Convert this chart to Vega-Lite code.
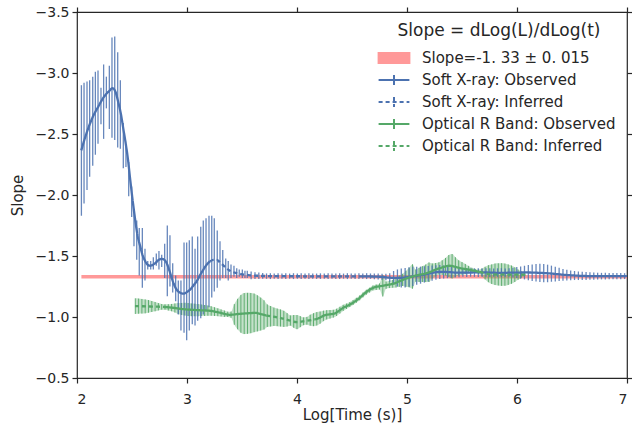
{
  "$schema": "https://vega.github.io/schema/vega-lite/v6.json",
  "width": 550,
  "height": 366,
  "autosize": {"type": "none"},
  "padding": {"left": 77, "top": 12, "right": 5, "bottom": 47},
  "config": {
    "font": "DejaVu Sans",
    "view": {"stroke": "#262626", "strokeWidth": 1.2},
    "axis": {"grid": false, "domain": false, "tickColor": "#262626", "tickSize": 5, "tickWidth": 1.2, "labelColor": "#262626", "labelFontSize": 14, "titleFontSize": 15, "titleFontWeight": "normal", "titleColor": "#262626", "labelFont": "DejaVu Sans", "titleFont": "DejaVu Sans"}
  },
  "datasets": {
    "band": [{"s": "Slope=-1. 33 ± 0. 015", "x": 2.04, "x2": 7.0, "lo": -1.345, "hi": -1.315}],
    "lines": [
      {"s": "Soft X-ray: Observed", "g": "b1", "x": 2.039, "y": -2.366},
      {"s": "Soft X-ray: Observed", "g": "b1", "x": 2.09, "y": -2.516},
      {"s": "Soft X-ray: Observed", "g": "b1", "x": 2.143, "y": -2.639},
      {"s": "Soft X-ray: Observed", "g": "b1", "x": 2.191, "y": -2.72},
      {"s": "Soft X-ray: Observed", "g": "b1", "x": 2.243, "y": -2.802},
      {"s": "Soft X-ray: Observed", "g": "b1", "x": 2.29, "y": -2.85},
      {"s": "Soft X-ray: Observed", "g": "b1", "x": 2.325, "y": -2.875},
      {"s": "Soft X-ray: Observed", "g": "b1", "x": 2.352, "y": -2.84},
      {"s": "Soft X-ray: Observed", "g": "b1", "x": 2.375, "y": -2.761},
      {"s": "Soft X-ray: Observed", "g": "b1", "x": 2.4, "y": -2.66},
      {"s": "Soft X-ray: Observed", "g": "b1", "x": 2.421, "y": -2.543},
      {"s": "Soft X-ray: Observed", "g": "b1", "x": 2.445, "y": -2.41},
      {"s": "Soft X-ray: Observed", "g": "b1", "x": 2.466, "y": -2.272},
      {"s": "Soft X-ray: Observed", "g": "b1", "x": 2.482, "y": -2.14},
      {"s": "Soft X-ray: Observed", "g": "b1", "x": 2.5, "y": -2.0},
      {"s": "Soft X-ray: Observed", "g": "b1", "x": 2.527, "y": -1.81},
      {"s": "Soft X-ray: Observed", "g": "b1", "x": 2.55, "y": -1.67},
      {"s": "Soft X-ray: Observed", "g": "b1", "x": 2.573, "y": -1.585},
      {"s": "Soft X-ray: Observed", "g": "b1", "x": 2.595, "y": -1.51},
      {"s": "Soft X-ray: Observed", "g": "b1", "x": 2.618, "y": -1.462},
      {"s": "Soft X-ray: Observed", "g": "b1", "x": 2.64, "y": -1.43},
      {"s": "Soft X-ray: Observed", "g": "b1", "x": 2.664, "y": -1.42},
      {"s": "Soft X-ray: Observed", "g": "b1", "x": 2.69, "y": -1.428},
      {"s": "Soft X-ray: Observed", "g": "b1", "x": 2.709, "y": -1.44},
      {"s": "Soft X-ray: Observed", "g": "b1", "x": 2.74, "y": -1.466},
      {"s": "Soft X-ray: Observed", "g": "b1", "x": 2.77, "y": -1.477},
      {"s": "Soft X-ray: Observed", "g": "b1", "x": 2.795, "y": -1.468},
      {"s": "Soft X-ray: Observed", "g": "b1", "x": 2.815, "y": -1.442},
      {"s": "Soft X-ray: Observed", "g": "b1", "x": 2.84, "y": -1.38},
      {"s": "Soft X-ray: Observed", "g": "b1", "x": 2.861, "y": -1.32},
      {"s": "Soft X-ray: Observed", "g": "b1", "x": 2.885, "y": -1.26},
      {"s": "Soft X-ray: Observed", "g": "b1", "x": 2.906, "y": -1.224},
      {"s": "Soft X-ray: Observed", "g": "b1", "x": 2.935, "y": -1.2},
      {"s": "Soft X-ray: Observed", "g": "b1", "x": 2.966, "y": -1.192},
      {"s": "Soft X-ray: Observed", "g": "b1", "x": 3.0, "y": -1.205},
      {"s": "Soft X-ray: Observed", "g": "b1", "x": 3.027, "y": -1.224},
      {"s": "Soft X-ray: Observed", "g": "b1", "x": 3.06, "y": -1.26},
      {"s": "Soft X-ray: Observed", "g": "b1", "x": 3.088, "y": -1.293},
      {"s": "Soft X-ray: Observed", "g": "b1", "x": 3.12, "y": -1.345},
      {"s": "Soft X-ray: Observed", "g": "b1", "x": 3.148, "y": -1.387},
      {"s": "Soft X-ray: Observed", "g": "b1", "x": 3.18, "y": -1.43},
      {"s": "Soft X-ray: Observed", "g": "b1", "x": 3.209, "y": -1.456},
      {"s": "Soft X-ray: Inferred", "g": "b2", "x": 3.209, "y": -1.456},
      {"s": "Soft X-ray: Inferred", "g": "b2", "x": 3.24, "y": -1.468},
      {"s": "Soft X-ray: Inferred", "g": "b2", "x": 3.27, "y": -1.469},
      {"s": "Soft X-ray: Inferred", "g": "b2", "x": 3.3, "y": -1.448},
      {"s": "Soft X-ray: Inferred", "g": "b2", "x": 3.33, "y": -1.423},
      {"s": "Soft X-ray: Inferred", "g": "b2", "x": 3.36, "y": -1.398},
      {"s": "Soft X-ray: Inferred", "g": "b2", "x": 3.391, "y": -1.379},
      {"s": "Soft X-ray: Inferred", "g": "b2", "x": 3.42, "y": -1.367},
      {"s": "Soft X-ray: Inferred", "g": "b2", "x": 3.452, "y": -1.36},
      {"s": "Soft X-ray: Inferred", "g": "b2", "x": 3.49, "y": -1.352},
      {"s": "Soft X-ray: Inferred", "g": "b2", "x": 3.527, "y": -1.347},
      {"s": "Soft X-ray: Inferred", "g": "b2", "x": 3.573, "y": -1.342},
      {"s": "Soft X-ray: Inferred", "g": "b2", "x": 3.65, "y": -1.338},
      {"s": "Soft X-ray: Inferred", "g": "b2", "x": 3.8, "y": -1.335},
      {"s": "Soft X-ray: Inferred", "g": "b2", "x": 4.0, "y": -1.334},
      {"s": "Soft X-ray: Inferred", "g": "b2", "x": 4.2, "y": -1.333},
      {"s": "Soft X-ray: Inferred", "g": "b2", "x": 4.4, "y": -1.333},
      {"s": "Soft X-ray: Inferred", "g": "b2", "x": 4.6, "y": -1.333},
      {"s": "Soft X-ray: Observed", "g": "b3", "x": 4.6, "y": -1.333},
      {"s": "Soft X-ray: Observed", "g": "b3", "x": 4.75, "y": -1.33},
      {"s": "Soft X-ray: Observed", "g": "b3", "x": 4.845, "y": -1.322},
      {"s": "Soft X-ray: Observed", "g": "b3", "x": 4.92, "y": -1.32},
      {"s": "Soft X-ray: Observed", "g": "b3", "x": 5.0, "y": -1.326},
      {"s": "Soft X-ray: Observed", "g": "b3", "x": 5.06, "y": -1.334},
      {"s": "Soft X-ray: Observed", "g": "b3", "x": 5.118, "y": -1.342},
      {"s": "Soft X-ray: Observed", "g": "b3", "x": 5.2, "y": -1.356},
      {"s": "Soft X-ray: Observed", "g": "b3", "x": 5.3, "y": -1.37},
      {"s": "Soft X-ray: Observed", "g": "b3", "x": 5.38, "y": -1.368},
      {"s": "Soft X-ray: Observed", "g": "b3", "x": 5.45, "y": -1.364},
      {"s": "Soft X-ray: Observed", "g": "b3", "x": 5.55, "y": -1.364},
      {"s": "Soft X-ray: Observed", "g": "b3", "x": 5.66, "y": -1.366},
      {"s": "Soft X-ray: Observed", "g": "b3", "x": 5.85, "y": -1.362},
      {"s": "Soft X-ray: Observed", "g": "b3", "x": 6.0, "y": -1.364},
      {"s": "Soft X-ray: Observed", "g": "b3", "x": 6.09, "y": -1.365},
      {"s": "Soft X-ray: Observed", "g": "b3", "x": 6.2, "y": -1.362},
      {"s": "Soft X-ray: Observed", "g": "b3", "x": 6.3, "y": -1.357},
      {"s": "Soft X-ray: Observed", "g": "b3", "x": 6.36, "y": -1.352},
      {"s": "Soft X-ray: Observed", "g": "b3", "x": 6.43, "y": -1.346},
      {"s": "Soft X-ray: Observed", "g": "b3", "x": 6.51, "y": -1.341},
      {"s": "Soft X-ray: Observed", "g": "b3", "x": 6.6, "y": -1.337},
      {"s": "Soft X-ray: Observed", "g": "b3", "x": 6.7, "y": -1.335},
      {"s": "Soft X-ray: Observed", "g": "b3", "x": 6.85, "y": -1.335},
      {"s": "Soft X-ray: Observed", "g": "b3", "x": 7.0, "y": -1.335},
      {"s": "Optical R Band: Inferred", "g": "g1", "x": 2.527, "y": -1.089},
      {"s": "Optical R Band: Inferred", "g": "g1", "x": 2.6, "y": -1.088},
      {"s": "Optical R Band: Inferred", "g": "g1", "x": 2.7, "y": -1.085},
      {"s": "Optical R Band: Inferred", "g": "g1", "x": 2.785, "y": -1.083},
      {"s": "Optical R Band: Inferred", "g": "g1", "x": 2.8, "y": -1.082},
      {"s": "Optical R Band: Observed", "g": "g2", "x": 2.8, "y": -1.082},
      {"s": "Optical R Band: Observed", "g": "g2", "x": 2.88, "y": -1.075},
      {"s": "Optical R Band: Observed", "g": "g2", "x": 2.95, "y": -1.066},
      {"s": "Optical R Band: Observed", "g": "g2", "x": 3.01, "y": -1.061},
      {"s": "Optical R Band: Observed", "g": "g2", "x": 3.1, "y": -1.056},
      {"s": "Optical R Band: Observed", "g": "g2", "x": 3.21, "y": -1.051},
      {"s": "Optical R Band: Observed", "g": "g2", "x": 3.3, "y": -1.035},
      {"s": "Optical R Band: Observed", "g": "g2", "x": 3.39, "y": -1.018},
      {"s": "Optical R Band: Observed", "g": "g2", "x": 3.46, "y": -1.024},
      {"s": "Optical R Band: Observed", "g": "g2", "x": 3.527, "y": -1.029},
      {"s": "Optical R Band: Observed", "g": "g2", "x": 3.58, "y": -1.032},
      {"s": "Optical R Band: Observed", "g": "g2", "x": 3.618, "y": -1.034},
      {"s": "Optical R Band: Observed", "g": "g2", "x": 3.68, "y": -1.022},
      {"s": "Optical R Band: Observed", "g": "g2", "x": 3.72, "y": -1.012},
      {"s": "Optical R Band: Inferred", "g": "g3", "x": 3.72, "y": -1.012},
      {"s": "Optical R Band: Inferred", "g": "g3", "x": 3.78, "y": -1.003},
      {"s": "Optical R Band: Inferred", "g": "g3", "x": 3.845, "y": -0.993},
      {"s": "Optical R Band: Inferred", "g": "g3", "x": 3.92, "y": -0.975},
      {"s": "Optical R Band: Inferred", "g": "g3", "x": 3.997, "y": -0.958},
      {"s": "Optical R Band: Inferred", "g": "g3", "x": 4.073, "y": -0.967},
      {"s": "Optical R Band: Inferred", "g": "g3", "x": 4.164, "y": -0.98},
      {"s": "Optical R Band: Observed", "g": "g4", "x": 4.164, "y": -0.98},
      {"s": "Optical R Band: Observed", "g": "g4", "x": 4.21, "y": -0.995},
      {"s": "Optical R Band: Observed", "g": "g4", "x": 4.255, "y": -1.016},
      {"s": "Optical R Band: Observed", "g": "g4", "x": 4.3, "y": -1.022},
      {"s": "Optical R Band: Observed", "g": "g4", "x": 4.345, "y": -1.029},
      {"s": "Optical R Band: Observed", "g": "g4", "x": 4.38, "y": -1.05},
      {"s": "Optical R Band: Observed", "g": "g4", "x": 4.42, "y": -1.075},
      {"s": "Optical R Band: Observed", "g": "g4", "x": 4.48, "y": -1.102},
      {"s": "Optical R Band: Observed", "g": "g4", "x": 4.53, "y": -1.13},
      {"s": "Optical R Band: Observed", "g": "g4", "x": 4.57, "y": -1.157},
      {"s": "Optical R Band: Observed", "g": "g4", "x": 4.62, "y": -1.197},
      {"s": "Optical R Band: Observed", "g": "g4", "x": 4.69, "y": -1.238},
      {"s": "Optical R Band: Observed", "g": "g4", "x": 4.785, "y": -1.257},
      {"s": "Optical R Band: Observed", "g": "g4", "x": 4.875, "y": -1.273},
      {"s": "Optical R Band: Observed", "g": "g4", "x": 4.966, "y": -1.306},
      {"s": "Optical R Band: Observed", "g": "g4", "x": 5.057, "y": -1.334},
      {"s": "Optical R Band: Observed", "g": "g4", "x": 5.18, "y": -1.36},
      {"s": "Optical R Band: Observed", "g": "g4", "x": 5.3, "y": -1.401},
      {"s": "Optical R Band: Observed", "g": "g4", "x": 5.39, "y": -1.42},
      {"s": "Optical R Band: Observed", "g": "g4", "x": 5.48, "y": -1.401},
      {"s": "Optical R Band: Observed", "g": "g4", "x": 5.57, "y": -1.387},
      {"s": "Optical R Band: Observed", "g": "g4", "x": 5.66, "y": -1.369},
      {"s": "Optical R Band: Inferred", "g": "g5", "x": 5.66, "y": -1.369},
      {"s": "Optical R Band: Inferred", "g": "g5", "x": 5.75, "y": -1.352},
      {"s": "Optical R Band: Inferred", "g": "g5", "x": 5.875, "y": -1.347},
      {"s": "Optical R Band: Inferred", "g": "g5", "x": 6.03, "y": -1.347},
      {"s": "Optical R Band: Inferred", "g": "g5", "x": 6.09, "y": -1.344}
    ],
    "xbars": [
      {"x": 2.04, "lo": -2.9, "hi": -1.83}, {"x": 2.064, "lo": -2.92, "hi": -1.93}, {"x": 2.091, "lo": -2.93, "hi": -2.04},
      {"x": 2.115, "lo": -2.94, "hi": -2.15}, {"x": 2.143, "lo": -2.97, "hi": -2.24}, {"x": 2.167, "lo": -3.01, "hi": -2.33},
      {"x": 2.191, "lo": -3.02, "hi": -2.42}, {"x": 2.218, "lo": -2.88, "hi": -2.58}, {"x": 2.242, "lo": -3.07, "hi": -2.46},
      {"x": 2.267, "lo": -2.97, "hi": -2.71}, {"x": 2.294, "lo": -3.06, "hi": -2.54}, {"x": 2.318, "lo": -3.29, "hi": -2.47},
      {"x": 2.343, "lo": -3.3, "hi": -2.45}, {"x": 2.37, "lo": -3.17, "hi": -2.39}, {"x": 2.394, "lo": -2.94, "hi": -2.38},
      {"x": 2.421, "lo": -2.59, "hi": -2.22}, {"x": 2.445, "lo": -2.41, "hi": -2.23}, {"x": 2.47, "lo": -2.27, "hi": -1.99},
      {"x": 2.497, "lo": -2.07, "hi": -1.82}, {"x": 2.518, "lo": -1.87, "hi": -1.58}, {"x": 2.543, "lo": -1.79, "hi": -1.47},
      {"x": 2.566, "lo": -1.73, "hi": -1.34}, {"x": 2.594, "lo": -1.73, "hi": -1.24}, {"x": 2.618, "lo": -1.56, "hi": -1.3},
      {"x": 2.643, "lo": -1.46, "hi": -1.39}, {"x": 2.67, "lo": -1.46, "hi": -1.39}, {"x": 2.694, "lo": -1.49, "hi": -1.39},
      {"x": 2.721, "lo": -1.52, "hi": -1.42}, {"x": 2.745, "lo": -1.54, "hi": -1.39}, {"x": 2.77, "lo": -1.51, "hi": -1.41},
      {"x": 2.797, "lo": -1.6, "hi": -1.32}, {"x": 2.821, "lo": -1.75, "hi": -1.17}, {"x": 2.845, "lo": -1.67, "hi": -1.25},
      {"x": 2.87, "lo": -1.44, "hi": -1.2}, {"x": 2.897, "lo": -1.34, "hi": -1.13}, {"x": 2.921, "lo": -1.3, "hi": -1.02},
      {"x": 2.945, "lo": -1.3, "hi": -0.89}, {"x": 2.973, "lo": -1.61, "hi": -0.87}, {"x": 2.997, "lo": -1.61, "hi": -0.81},
      {"x": 3.021, "lo": -1.63, "hi": -0.89}, {"x": 3.048, "lo": -1.66, "hi": -0.94}, {"x": 3.073, "lo": -1.56, "hi": -0.93},
      {"x": 3.097, "lo": -1.66, "hi": -0.97}, {"x": 3.125, "lo": -1.74, "hi": -0.99}, {"x": 3.148, "lo": -1.79, "hi": -1.02},
      {"x": 3.173, "lo": -1.81, "hi": -1.05}, {"x": 3.2, "lo": -1.83, "hi": -1.08}, {"x": 3.225, "lo": -1.83, "hi": -1.16},
      {"x": 3.248, "lo": -1.81, "hi": -1.21}, {"x": 3.275, "lo": -1.71, "hi": -1.24}, {"x": 3.3, "lo": -1.62, "hi": -1.3},
      {"x": 3.325, "lo": -1.55, "hi": -1.32}, {"x": 3.352, "lo": -1.48, "hi": -1.32}, {"x": 3.375, "lo": -1.46, "hi": -1.3},
      {"x": 3.4, "lo": -1.43, "hi": -1.32}, {"x": 3.427, "lo": -1.42, "hi": -1.33}, {"x": 3.452, "lo": -1.4, "hi": -1.32},
      {"x": 3.475, "lo": -1.39, "hi": -1.33}, {"x": 3.503, "lo": -1.39, "hi": -1.32}, {"x": 3.527, "lo": -1.38, "hi": -1.32},
      {"x": 3.548, "lo": -1.38, "hi": -1.32}, {"x": 3.583, "lo": -1.373, "hi": -1.309}, {"x": 3.618, "lo": -1.367, "hi": -1.311},
      {"x": 3.653, "lo": -1.364, "hi": -1.312}, {"x": 3.688, "lo": -1.361, "hi": -1.313}, {"x": 3.723, "lo": -1.357, "hi": -1.313},
      {"x": 3.758, "lo": -1.359, "hi": -1.311}, {"x": 3.793, "lo": -1.356, "hi": -1.314}, {"x": 3.828, "lo": -1.359, "hi": -1.311},
      {"x": 3.863, "lo": -1.357, "hi": -1.313}, {"x": 3.898, "lo": -1.358, "hi": -1.312}, {"x": 3.933, "lo": -1.356, "hi": -1.314},
      {"x": 3.968, "lo": -1.359, "hi": -1.311}, {"x": 4.003, "lo": -1.357, "hi": -1.313}, {"x": 4.038, "lo": -1.358, "hi": -1.312},
      {"x": 4.073, "lo": -1.356, "hi": -1.314}, {"x": 4.108, "lo": -1.359, "hi": -1.311}, {"x": 4.143, "lo": -1.357, "hi": -1.313},
      {"x": 4.178, "lo": -1.356, "hi": -1.312}, {"x": 4.213, "lo": -1.358, "hi": -1.312}, {"x": 4.248, "lo": -1.356, "hi": -1.314},
      {"x": 4.283, "lo": -1.359, "hi": -1.311}, {"x": 4.318, "lo": -1.357, "hi": -1.313}, {"x": 4.353, "lo": -1.356, "hi": -1.312},
      {"x": 4.388, "lo": -1.358, "hi": -1.312}, {"x": 4.423, "lo": -1.356, "hi": -1.314}, {"x": 4.458, "lo": -1.359, "hi": -1.311},
      {"x": 4.493, "lo": -1.357, "hi": -1.313}, {"x": 4.528, "lo": -1.356, "hi": -1.312}, {"x": 4.563, "lo": -1.358, "hi": -1.312},
      {"x": 4.598, "lo": -1.356, "hi": -1.314}, {"x": 4.633, "lo": -1.359, "hi": -1.311}, {"x": 4.668, "lo": -1.357, "hi": -1.313},
      {"x": 4.703, "lo": -1.356, "hi": -1.31}, {"x": 4.738, "lo": -1.356, "hi": -1.308}, {"x": 4.773, "lo": -1.355, "hi": -1.305},
      {"x": 4.808, "lo": -1.354, "hi": -1.302}, {"x": 4.843, "lo": -1.359, "hi": -1.289}, {"x": 4.878, "lo": -1.377, "hi": -1.267},
      {"x": 4.913, "lo": -1.39, "hi": -1.25}, {"x": 4.948, "lo": -1.398, "hi": -1.242}, {"x": 4.983, "lo": -1.402, "hi": -1.242},
      {"x": 5.018, "lo": -1.407, "hi": -1.247}, {"x": 5.053, "lo": -1.411, "hi": -1.255}, {"x": 5.088, "lo": -1.412, "hi": -1.264},
      {"x": 5.123, "lo": -1.413, "hi": -1.273}, {"x": 5.158, "lo": -1.416, "hi": -1.282}, {"x": 5.193, "lo": -1.419, "hi": -1.291},
      {"x": 5.228, "lo": -1.422, "hi": -1.298}, {"x": 5.263, "lo": -1.425, "hi": -1.305}, {"x": 5.298, "lo": -1.426, "hi": -1.312},
      {"x": 5.333, "lo": -1.423, "hi": -1.315}, {"x": 5.368, "lo": -1.418, "hi": -1.318}, {"x": 5.403, "lo": -1.411, "hi": -1.321},
      {"x": 5.438, "lo": -1.405, "hi": -1.323}, {"x": 5.473, "lo": -1.402, "hi": -1.326}, {"x": 5.508, "lo": -1.399, "hi": -1.329},
      {"x": 5.543, "lo": -1.4, "hi": -1.328}, {"x": 5.578, "lo": -1.398, "hi": -1.33}, {"x": 5.613, "lo": -1.399, "hi": -1.329},
      {"x": 5.648, "lo": -1.4, "hi": -1.328}, {"x": 5.683, "lo": -1.398, "hi": -1.33}, {"x": 5.718, "lo": -1.399, "hi": -1.329},
      {"x": 5.753, "lo": -1.4, "hi": -1.328}, {"x": 5.788, "lo": -1.398, "hi": -1.33}, {"x": 5.823, "lo": -1.399, "hi": -1.329},
      {"x": 5.858, "lo": -1.4, "hi": -1.328}, {"x": 5.893, "lo": -1.398, "hi": -1.33}, {"x": 5.928, "lo": -1.399, "hi": -1.329},
      {"x": 5.963, "lo": -1.403, "hi": -1.323}, {"x": 5.998, "lo": -1.409, "hi": -1.319}, {"x": 6.033, "lo": -1.414, "hi": -1.314},
      {"x": 6.068, "lo": -1.42, "hi": -1.308}, {"x": 6.103, "lo": -1.426, "hi": -1.302}, {"x": 6.138, "lo": -1.431, "hi": -1.295},
      {"x": 6.173, "lo": -1.434, "hi": -1.29}, {"x": 6.208, "lo": -1.436, "hi": -1.286}, {"x": 6.243, "lo": -1.434, "hi": -1.284},
      {"x": 6.278, "lo": -1.429, "hi": -1.285}, {"x": 6.313, "lo": -1.421, "hi": -1.289}, {"x": 6.348, "lo": -1.412, "hi": -1.292},
      {"x": 6.383, "lo": -1.403, "hi": -1.295}, {"x": 6.418, "lo": -1.394, "hi": -1.298}, {"x": 6.453, "lo": -1.387, "hi": -1.299},
      {"x": 6.488, "lo": -1.381, "hi": -1.301}, {"x": 6.523, "lo": -1.377, "hi": -1.303}, {"x": 6.558, "lo": -1.373, "hi": -1.303},
      {"x": 6.593, "lo": -1.37, "hi": -1.304}, {"x": 6.628, "lo": -1.368, "hi": -1.304}, {"x": 6.663, "lo": -1.367, "hi": -1.305},
      {"x": 6.698, "lo": -1.365, "hi": -1.305}, {"x": 6.733, "lo": -1.363, "hi": -1.307}, {"x": 6.768, "lo": -1.362, "hi": -1.308},
      {"x": 6.803, "lo": -1.362, "hi": -1.308}, {"x": 6.838, "lo": -1.361, "hi": -1.309}, {"x": 6.873, "lo": -1.361, "hi": -1.309},
      {"x": 6.908, "lo": -1.36, "hi": -1.31}, {"x": 6.943, "lo": -1.36, "hi": -1.31}, {"x": 6.978, "lo": -1.359, "hi": -1.311}
    ],
    "gbars": [
      {"x": 2.53, "lo": -1.153, "hi": -1.025}, {"x": 2.56, "lo": -1.151, "hi": -1.027}, {"x": 2.59, "lo": -1.148, "hi": -1.028},
      {"x": 2.62, "lo": -1.144, "hi": -1.03}, {"x": 2.65, "lo": -1.139, "hi": -1.035}, {"x": 2.68, "lo": -1.131, "hi": -1.041},
      {"x": 2.71, "lo": -1.123, "hi": -1.047}, {"x": 2.74, "lo": -1.114, "hi": -1.054}, {"x": 2.77, "lo": -1.106, "hi": -1.06},
      {"x": 2.8, "lo": -1.104, "hi": -1.06}, {"x": 2.83, "lo": -1.105, "hi": -1.053}, {"x": 2.86, "lo": -1.107, "hi": -1.047},
      {"x": 2.89, "lo": -1.111, "hi": -1.037}, {"x": 2.92, "lo": -1.115, "hi": -1.025}, {"x": 2.95, "lo": -1.115, "hi": -1.017},
      {"x": 2.98, "lo": -1.116, "hi": -1.012}, {"x": 3.01, "lo": -1.114, "hi": -1.008}, {"x": 3.04, "lo": -1.111, "hi": -1.007},
      {"x": 3.07, "lo": -1.109, "hi": -1.007}, {"x": 3.1, "lo": -1.106, "hi": -1.006}, {"x": 3.13, "lo": -1.102, "hi": -1.008},
      {"x": 3.16, "lo": -1.098, "hi": -1.008}, {"x": 3.19, "lo": -1.094, "hi": -1.01}, {"x": 3.22, "lo": -1.088, "hi": -1.01},
      {"x": 3.25, "lo": -1.08, "hi": -1.008}, {"x": 3.28, "lo": -1.071, "hi": -1.007}, {"x": 3.31, "lo": -1.062, "hi": -1.004},
      {"x": 3.34, "lo": -1.053, "hi": -1.001}, {"x": 3.37, "lo": -1.044, "hi": -1.0}, {"x": 3.4, "lo": -1.044, "hi": -0.994},
      {"x": 3.43, "lo": -1.106, "hi": -0.936}, {"x": 3.46, "lo": -1.149, "hi": -0.899}, {"x": 3.49, "lo": -1.181, "hi": -0.871},
      {"x": 3.52, "lo": -1.196, "hi": -0.86}, {"x": 3.55, "lo": -1.198, "hi": -0.862}, {"x": 3.58, "lo": -1.197, "hi": -0.867},
      {"x": 3.61, "lo": -1.192, "hi": -0.876}, {"x": 3.64, "lo": -1.178, "hi": -0.882}, {"x": 3.67, "lo": -1.159, "hi": -0.889},
      {"x": 3.7, "lo": -1.137, "hi": -0.897}, {"x": 3.73, "lo": -1.103, "hi": -0.919}, {"x": 3.76, "lo": -1.09, "hi": -0.922},
      {"x": 3.79, "lo": -1.077, "hi": -0.927}, {"x": 3.82, "lo": -1.069, "hi": -0.925}, {"x": 3.85, "lo": -1.062, "hi": -0.922},
      {"x": 3.88, "lo": -1.051, "hi": -0.919}, {"x": 3.91, "lo": -1.032, "hi": -0.922}, {"x": 3.94, "lo": -1.013, "hi": -0.929},
      {"x": 3.97, "lo": -1.016, "hi": -0.912}, {"x": 4.0, "lo": -1.016, "hi": -0.9}, {"x": 4.03, "lo": -1.007, "hi": -0.917},
      {"x": 4.06, "lo": -0.997, "hi": -0.933}, {"x": 4.09, "lo": -1.001, "hi": -0.937}, {"x": 4.12, "lo": -1.019, "hi": -0.929},
      {"x": 4.15, "lo": -1.031, "hi": -0.925}, {"x": 4.18, "lo": -1.04, "hi": -0.93}, {"x": 4.21, "lo": -1.045, "hi": -0.945},
      {"x": 4.24, "lo": -1.052, "hi": -0.966}, {"x": 4.27, "lo": -1.056, "hi": -0.98}, {"x": 4.3, "lo": -1.057, "hi": -0.987},
      {"x": 4.33, "lo": -1.059, "hi": -0.995}, {"x": 4.36, "lo": -1.068, "hi": -1.008}, {"x": 4.39, "lo": -1.084, "hi": -1.028},
      {"x": 4.42, "lo": -1.1, "hi": -1.05}, {"x": 4.45, "lo": -1.11, "hi": -1.066}, {"x": 4.48, "lo": -1.122, "hi": -1.082},
      {"x": 4.51, "lo": -1.139, "hi": -1.099}, {"x": 4.54, "lo": -1.157, "hi": -1.117}, {"x": 4.57, "lo": -1.177, "hi": -1.137},
      {"x": 4.6, "lo": -1.201, "hi": -1.161}, {"x": 4.63, "lo": -1.223, "hi": -1.183}, {"x": 4.66, "lo": -1.24, "hi": -1.2},
      {"x": 4.69, "lo": -1.258, "hi": -1.218}, {"x": 4.72, "lo": -1.266, "hi": -1.222}, {"x": 4.75, "lo": -1.275, "hi": -1.225},
      {"x": 4.78, "lo": -1.344, "hi": -1.168}, {"x": 4.81, "lo": -1.291, "hi": -1.231}, {"x": 4.84, "lo": -1.297, "hi": -1.237},
      {"x": 4.87, "lo": -1.304, "hi": -1.24}, {"x": 4.9, "lo": -1.322, "hi": -1.242}, {"x": 4.93, "lo": -1.339, "hi": -1.247},
      {"x": 4.96, "lo": -1.354, "hi": -1.254}, {"x": 4.99, "lo": -1.378, "hi": -1.248}, {"x": 5.02, "lo": -1.403, "hi": -1.243},
      {"x": 5.05, "lo": -1.432, "hi": -1.232}, {"x": 5.08, "lo": -1.389, "hi": -1.289}, {"x": 5.11, "lo": -1.403, "hi": -1.287},
      {"x": 5.14, "lo": -1.417, "hi": -1.287}, {"x": 5.17, "lo": -1.43, "hi": -1.286}, {"x": 5.2, "lo": -1.447, "hi": -1.287},
      {"x": 5.23, "lo": -1.439, "hi": -1.315}, {"x": 5.26, "lo": -1.442, "hi": -1.332}, {"x": 5.29, "lo": -1.448, "hi": -1.348},
      {"x": 5.32, "lo": -1.465, "hi": -1.345}, {"x": 5.35, "lo": -1.484, "hi": -1.34}, {"x": 5.38, "lo": -1.508, "hi": -1.328},
      {"x": 5.41, "lo": -1.516, "hi": -1.316}, {"x": 5.44, "lo": -1.49, "hi": -1.33}, {"x": 5.47, "lo": -1.465, "hi": -1.341},
      {"x": 5.5, "lo": -1.45, "hi": -1.346}, {"x": 5.53, "lo": -1.435, "hi": -1.351}, {"x": 5.56, "lo": -1.419, "hi": -1.359},
      {"x": 5.59, "lo": -1.403, "hi": -1.363}, {"x": 5.62, "lo": -1.394, "hi": -1.36}, {"x": 5.65, "lo": -1.389, "hi": -1.353},
      {"x": 5.68, "lo": -1.397, "hi": -1.333}, {"x": 5.71, "lo": -1.412, "hi": -1.308}, {"x": 5.74, "lo": -1.425, "hi": -1.285},
      {"x": 5.77, "lo": -1.431, "hi": -1.271}, {"x": 5.8, "lo": -1.438, "hi": -1.262}, {"x": 5.83, "lo": -1.44, "hi": -1.258},
      {"x": 5.86, "lo": -1.441, "hi": -1.255}, {"x": 5.89, "lo": -1.438, "hi": -1.256}, {"x": 5.92, "lo": -1.431, "hi": -1.263},
      {"x": 5.95, "lo": -1.422, "hi": -1.272}, {"x": 5.98, "lo": -1.407, "hi": -1.287}, {"x": 6.01, "lo": -1.389, "hi": -1.305},
      {"x": 6.04, "lo": -1.372, "hi": -1.322}, {"x": 6.07, "lo": -1.355, "hi": -1.335}
    ]
  },
  "layer": [
    {
      "data": {"name": "lines"},
      "mark": {"type": "point", "filled": false, "opacity": 0, "strokeWidth": 2},
      "encoding": {
        "x": {"field": "x", "type": "quantitative", "axis": null},
        "y": {"field": "y", "type": "quantitative", "axis": null},
        "color": {
          "field": "s", "type": "nominal",
          "scale": {"domain": ["Slope=-1. 33 ± 0. 015", "Soft X-ray: Observed", "Soft X-ray: Inferred", "Optical R Band: Observed", "Optical R Band: Inferred"],
                    "range": ["#ff9999", "#4c72b0", "#4c72b0", "#55a868", "#55a868"]},
          "legend": {
            "title": "Slope = dLog(L)/dLog(t)",
            "orient": "top-right",
            "offset": 11,
            "padding": 0,
            "titleFontSize": 17, "titleFontWeight": "normal", "titleColor": "#262626", "titleAnchor": "middle", "titlePadding": 6, "titleLimit": 0,
            "labelFontSize": 15, "labelColor": "#262626", "labelOffset": 16, "labelLimit": 0,
            "symbolSize": 484, "rowPadding": 1, "symbolOpacity": 1, "symbolStrokeWidth": 2
          }
        },
        "shape": {
          "field": "s", "type": "nominal",
          "scale": {"domain": ["Slope=-1. 33 ± 0. 015", "Soft X-ray: Observed", "Soft X-ray: Inferred", "Optical R Band: Observed", "Optical R Band: Inferred"],
                    "range": ["M-1.4,-0.45H1.4V-0.27H-1.4V-0.09H1.4V0.09H-1.4V0.27H1.4V0.45H-1.4Z", "M-1.4,0H1.4M0,-0.45V0.45", "M-1.4,0H1.4M0,-0.45V0.45", "M-1.4,0H1.4M0,-0.45V0.45", "M-1.4,0H1.4M0,-0.45V0.45"]},
          "legend": {"title": "Slope = dLog(L)/dLog(t)"}
        },
        "strokeDash": {
          "field": "s", "type": "nominal",
          "scale": {"domain": ["Slope=-1. 33 ± 0. 015", "Soft X-ray: Observed", "Soft X-ray: Inferred", "Optical R Band: Observed", "Optical R Band: Inferred"],
                    "range": [[1, 0], [1, 0], [4, 3], [1, 0], [4, 3]]},
          "legend": {"title": "Slope = dLog(L)/dLog(t)"}
        }
      }
    },
    {
      "data": {"name": "band"},
      "mark": {"type": "rect", "color": "#ff9999"},
      "encoding": {
        "x": {"field": "x", "type": "quantitative", "scale": {"domain": [2, 7], "zero": false, "nice": false},
              "axis": {"orient": "bottom", "values": [2, 3, 4, 5, 6, 7], "format": "d", "title": "Log[Time (s)]", "labelPadding": 9, "titlePadding": 1}},
        "x2": {"field": "x2"},
        "y": {"field": "lo", "type": "quantitative", "scale": {"domain": [-3.5, -0.5], "reverse": true, "zero": false, "nice": false},
              "axis": {"orient": "left", "values": [-3.5, -3, -2.5, -2, -1.5, -1, -0.5], "format": ".1f", "title": "Slope", "labelPadding": 3, "titlePadding": 10}},
        "y2": {"field": "hi"}
      }
    },
    {
      "data": {"name": "gbars"},
      "mark": {"type": "area", "opacity": 0.35, "color": "#55a868", "interpolate": "monotone"},
      "encoding": {
        "x": {"field": "x", "type": "quantitative", "axis": null},
        "y": {"field": "lo", "type": "quantitative", "axis": null},
        "y2": {"field": "hi"}
      }
    },
    {
      "data": {"name": "gbars"},
      "mark": {"type": "rule", "opacity": 0.9, "color": "#55a868", "strokeWidth": 1},
      "encoding": {
        "x": {"field": "x", "type": "quantitative", "axis": null},
        "y": {"field": "lo", "type": "quantitative", "axis": null},
        "y2": {"field": "hi"}
      }
    },
    {
      "data": {"name": "xbars"},
      "mark": {"type": "rule", "opacity": 0.85, "color": "#4c72b0", "strokeWidth": 1.3},
      "encoding": {
        "x": {"field": "x", "type": "quantitative", "axis": null},
        "y": {"field": "lo", "type": "quantitative", "axis": null},
        "y2": {"field": "hi"}
      }
    },
    {
      "data": {"name": "lines"},
      "mark": {"type": "line", "strokeWidth": 2.3, "interpolate": "monotone"},
      "encoding": {
        "x": {"field": "x", "type": "quantitative", "axis": {"orient": "top", "labels": false, "title": null, "values": [2, 3, 4, 5, 6, 7]}},
        "y": {"field": "y", "type": "quantitative", "axis": {"orient": "right", "labels": false, "title": null, "values": [-3.5, -3, -2.5, -2, -1.5, -1, -0.5]}},
        "detail": {"field": "g"},
        "color": {
          "field": "s", "type": "nominal",
          "scale": {"domain": ["Slope=-1. 33 ± 0. 015", "Soft X-ray: Observed", "Soft X-ray: Inferred", "Optical R Band: Observed", "Optical R Band: Inferred"],
                    "range": ["#ff9999", "#4c72b0", "#4c72b0", "#55a868", "#55a868"]},
          "legend": null
        },
        "strokeDash": {
          "field": "s", "type": "nominal",
          "scale": {"domain": ["Slope=-1. 33 ± 0. 015", "Soft X-ray: Observed", "Soft X-ray: Inferred", "Optical R Band: Observed", "Optical R Band: Inferred"],
                    "range": [[1, 0], [1, 0], [4, 3], [1, 0], [4, 3]]},
          "legend": null
        }
      }
    }
  ]
}
